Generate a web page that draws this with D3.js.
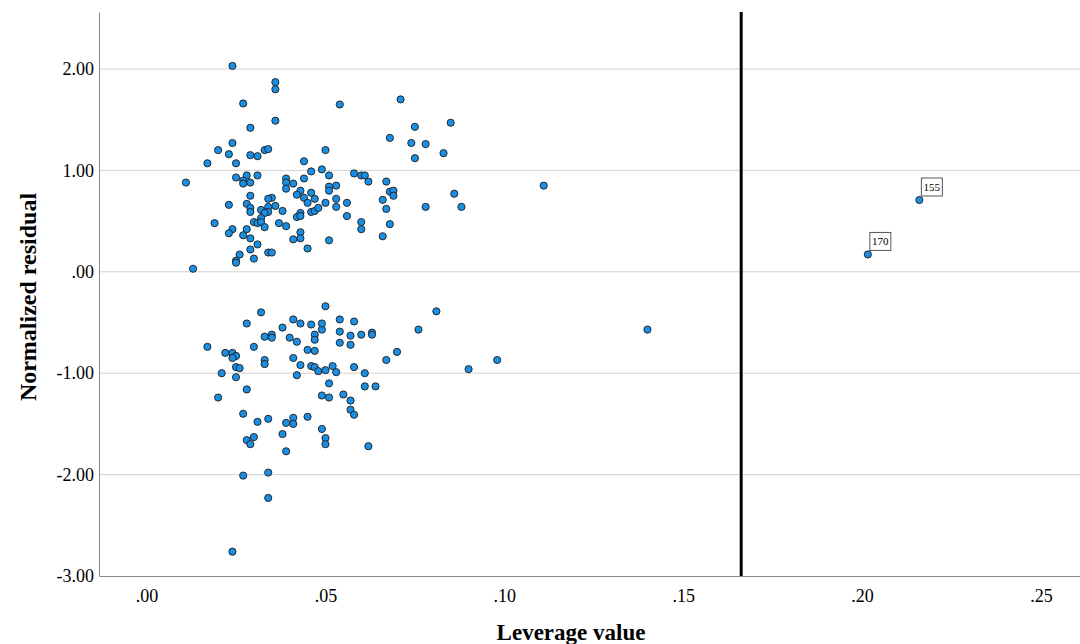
<!DOCTYPE html>
<html>
<head>
<meta charset="utf-8">
<script src="https://cdn.jsdelivr.net/npm/d3@7"></script>
<style>
  body { margin: 0; background: #fff; }
  svg { display: block; }
  text { font-family: "Liberation Serif", "Times New Roman", serif; }
</style>
</head>
<body>
<div id="chart"></div>
<script>
// leverage / normalized residual pairs
const upperLeverage = [0.024,0.036,0.036,0.027,0.036,0.029,0.054,0.071,0.075,0.085,0.068,0.074,0.078,0.083,0.075,0.050,
  0.024,0.020,0.023,0.029,0.031,0.033,0.034,0.017,0.025,0.044,0.046,0.049,0.011,0.025,0.028,0.027,0.027,0.029,0.031,
  0.039,0.039,0.041,0.039,0.044,0.043,0.042,0.046,0.044,0.047,0.029,0.035,0.034,0.023,0.028,0.029,0.032,0.029,0.034,
  0.036,0.034,0.033,0.038,0.045,0.043,0.042,0.043,0.046,0.047,0.048,0.032,0.030,0.031,0.032,0.033,0.019,0.037,0.039,
  0.024,0.023,0.028,0.027,0.029,0.043,0.043,0.041,0.031,0.029,0.045,0.034,0.035,0.026,0.025,0.025,0.030,0.013,
  0.051,0.058,0.060,0.061,0.062,0.067,0.053,0.051,0.051,0.068,0.069,0.069,0.086,0.053,0.050,0.056,0.053,0.066,0.067,
  0.078,0.088,0.056,0.060,0.060,0.068,0.051,0.066,0.111];
const upperResidual = [2.03,1.87,1.80,1.66,1.49,1.42,1.65,1.70,1.43,1.47,1.32,1.27,1.26,1.17,1.12,1.20,
  1.27,1.20,1.16,1.15,1.14,1.20,1.21,1.07,1.07,1.09,0.99,1.01,0.88,0.93,0.95,0.90,0.87,0.88,0.95,
  0.92,0.88,0.87,0.82,0.92,0.80,0.76,0.78,0.73,0.72,0.75,0.73,0.72,0.66,0.67,0.63,0.61,0.59,0.64,
  0.65,0.59,0.58,0.60,0.68,0.58,0.54,0.55,0.59,0.60,0.63,0.53,0.49,0.48,0.49,0.44,0.48,0.48,0.45,
  0.42,0.38,0.42,0.36,0.33,0.39,0.33,0.32,0.27,0.22,0.23,0.19,0.19,0.17,0.11,0.09,0.13,0.03,
  0.95,0.97,0.95,0.95,0.89,0.89,0.85,0.84,0.80,0.79,0.80,0.75,0.77,0.72,0.68,0.68,0.64,0.71,0.62,
  0.64,0.64,0.55,0.49,0.42,0.47,0.31,0.35,0.85];

const lowerLeverage = [0.032,0.028,0.041,0.043,0.046,0.049,0.038,0.035,0.035,0.033,0.040,0.042,0.047,0.047,0.017,
  0.022,0.024,0.025,0.024,0.030,0.045,0.047,0.033,0.033,0.041,0.043,0.025,0.026,0.021,0.046,0.047,0.048,0.025,
  0.042,0.028,0.020,0.049,0.027,0.031,0.034,0.039,0.041,0.041,0.045,0.049,0.038,0.028,0.030,0.029,0.039,0.027,
  0.034,0.034,0.024,0.050,0.081,0.049,0.054,0.058,0.054,0.057,0.060,0.063,0.063,0.076,0.054,0.057,0.070,0.067,
  0.052,0.050,0.053,0.058,0.061,0.090,0.098,0.051,0.061,0.064,0.051,0.055,0.057,0.057,0.058,0.050,0.050,0.062,0.140];
const lowerResidual = [-0.40,-0.51,-0.47,-0.51,-0.52,-0.57,-0.55,-0.62,-0.65,-0.64,-0.65,-0.69,-0.62,-0.67,-0.74,
  -0.80,-0.80,-0.83,-0.85,-0.74,-0.77,-0.78,-0.87,-0.91,-0.85,-0.92,-0.94,-0.95,-1.00,-0.93,-0.94,-0.98,-1.04,
  -1.02,-1.16,-1.24,-1.22,-1.40,-1.48,-1.45,-1.49,-1.44,-1.50,-1.43,-1.55,-1.60,-1.66,-1.63,-1.70,-1.77,-2.01,
  -1.98,-2.23,-2.76,-0.34,-0.39,-0.51,-0.47,-0.49,-0.59,-0.63,-0.62,-0.60,-0.62,-0.57,-0.70,-0.72,-0.79,-0.87,
  -0.93,-0.97,-0.99,-0.94,-1.00,-0.96,-0.87,-1.10,-1.13,-1.13,-1.24,-1.21,-1.27,-1.36,-1.41,-1.64,-1.70,-1.72,-0.57];

// labelled outlying cases
const caseIds = ["155", "170"];
const caseLeverage = [0.216, 0.2016];
const caseResidual = [0.708, 0.171];

const cutoff = 0.1662;
const xTicks = [0, 0.05, 0.10, 0.15, 0.20, 0.25];
const yTicks = [-3, -2, -1, 0, 1, 2];

const width = 1080, height = 644;
const plotLeft = 99, plotRight = 1080, plotTop = 12, plotBottom = 576;

const svg = d3.select("#chart").append("svg")
    .attr("width", width)
    .attr("height", height);

const x = d3.scaleLinear().domain([-0.0133, 0.2609]).range([plotLeft, plotRight]);
const y = d3.scaleLinear().domain([-3, 2.562]).range([plotBottom, plotTop]);

// SPSS style: ".05", "-1.00", plain hyphen
const fmt = d => {
    const s = Math.abs(d).toFixed(2).replace(/^0\./, ".");
    return (d < 0 ? "-" : "") + s;
};

// horizontal grid
svg.append("g")
    .selectAll("line")
    .data(yTicks.filter(d => d > -3))
    .enter().append("line")
    .attr("x1", plotLeft).attr("x2", plotRight)
    .attr("y1", d => y(d)).attr("y2", d => y(d))
    .attr("stroke", "#d2d2d2")
    .attr("stroke-width", 1);

// axes
const yAxis = svg.append("g")
    .attr("transform", `translate(${plotLeft},0)`)
    .call(d3.axisLeft(y).tickValues(yTicks).tickFormat(fmt).tickSize(0).tickPadding(5));
const xAxis = svg.append("g")
    .attr("transform", `translate(0,${plotBottom})`)
    .call(d3.axisBottom(x).tickValues(xTicks).tickFormat(fmt).tickSize(0).tickPadding(13));

[xAxis, yAxis].forEach(a => {
    a.attr("font-family", null).attr("font-size", null);
    a.select(".domain").attr("stroke", "#8a8a8a").attr("stroke-width", 1);
    a.selectAll("text")
        .style("font-family", "'Liberation Serif', 'Times New Roman', serif")
        .style("font-size", "18px")
        .attr("fill", "#000");
});

// reference line
svg.append("line")
    .attr("x1", x(cutoff)).attr("x2", x(cutoff))
    .attr("y1", plotTop).attr("y2", plotBottom)
    .attr("stroke", "#000")
    .attr("stroke-width", 3);

const points = [];
upperLeverage.forEach((d, i) => points.push([d, upperResidual[i]]));
lowerLeverage.forEach((d, i) => points.push([d, lowerResidual[i]]));
caseLeverage.forEach((d, i) => points.push([d, caseResidual[i]]));

svg.append("g")
    .selectAll("circle")
    .data(points)
    .enter().append("circle")
    .attr("cx", d => x(d[0]))
    .attr("cy", d => y(d[1]))
    .attr("r", 3.6)
    .attr("fill", "#1a8ee2")
    .attr("stroke", "#1c1c1c")
    .attr("stroke-width", 0.9);

// case labels
const labels = svg.append("g")
    .selectAll("g")
    .data(caseIds)
    .enter().append("g")
    .attr("transform", (d, i) => `translate(${x(caseLeverage[i]) + 2},${y(caseResidual[i]) - 4})`);
labels.append("rect")
    .attr("x", 0).attr("y", -18)
    .attr("width", 21).attr("height", 18)
    .attr("fill", "#fff")
    .attr("stroke", "#555")
    .attr("stroke-width", 1);
labels.append("text")
    .attr("x", 10.5).attr("y", -5)
    .attr("text-anchor", "middle")
    .style("font-size", "11px")
    .text(d => d);

// axis titles
svg.append("text")
    .attr("x", 571)
    .attr("y", 640)
    .attr("text-anchor", "middle")
    .style("font-weight", "bold")
    .style("font-size", "23px")
    .text("Leverage value");

svg.append("text")
    .attr("transform", "translate(36,297) rotate(-90)")
    .attr("text-anchor", "middle")
    .style("font-weight", "bold")
    .style("font-size", "24px")
    .text("Normalized residual");
</script>
</body>
</html>
